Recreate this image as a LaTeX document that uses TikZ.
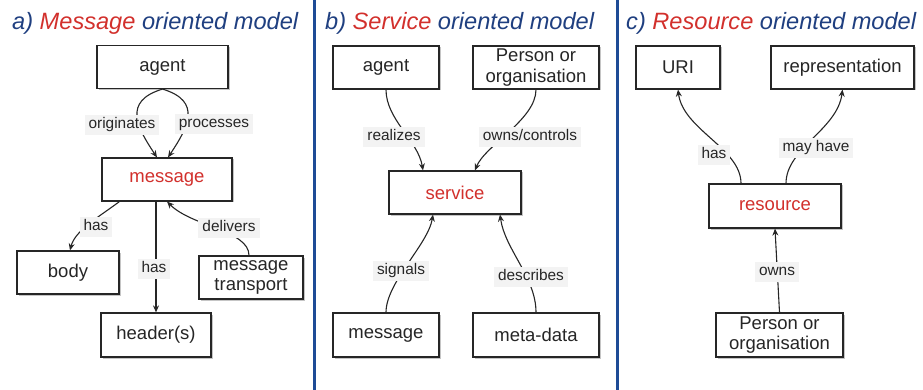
\documentclass[tikz,border=0pt]{standalone}
\usepackage{fontspec}
\setmainfont{Liberation Sans}
\usepackage{tikz}
\usetikzlibrary{arrows.meta,shadows}
\definecolor{titleblue}{HTML}{1F3F80}
\definecolor{accentred}{HTML}{D2302C}
\definecolor{ruleblue}{HTML}{1E4B96}
\definecolor{lblgray}{HTML}{F3F3F3}
\newcommand{\hl}[1]{\textcolor{accentred}{#1}}

\begin{document}
\begin{tikzpicture}[
  x=1pt, y=-1pt,
  title/.style={anchor=base west, inner sep=0pt, font=\fontsize{23.6}{26}\selectfont\itshape, text=titleblue},
  box/.style={draw=black!85, line width=1.2pt, fill=white, align=center, inner sep=1pt,
    minimum height=43pt, text=black!85, font=\fontsize{18.5}{20.5}\selectfont,
    drop shadow={shadow xshift=1.5pt, shadow yshift=-1.5pt, fill=black!45}},
  lbl/.style={fill=lblgray, inner xsep=4pt, inner ysep=2.5pt, text height=11pt, text depth=3.5pt,
    text=black!85, font=\fontsize{15.4}{17}\selectfont},
  conn/.style={-{Stealth[length=7pt,width=6pt]}, line width=1.1pt, draw=black!85},
  sep/.style={draw=ruleblue, line width=3pt}
]
\useasboundingbox (0,0) rectangle (923,390);

% separators
\draw[sep] (314.5,0) -- (314.5,390);
\draw[sep] (617.5,0) -- (617.5,390);

% a) message oriented model
\node[title] (ta) at (12,30) {a) \hl{Message} oriented model};
\node[box, minimum width=131pt] (ma) at (162.5,67) {agent};
\node[box, minimum width=130pt, text=accentred] (mm) at (167,179.5) {message};
\node[box, minimum width=102pt] (mb) at (68,272.5) {body};
\node[box, minimum width=104pt] (mt) at (251,277.5) {message\\transport};
\node[box, minimum width=110pt, minimum height=44pt] (mh) at (156,335) {header(s)};
\draw[conn] (ma.south) .. controls +(-40,12) and +(-20,-30) .. ([xshift=-10pt]mm.north)
  node[lbl] at (122,125) {originates};
\draw[conn] (ma.south) .. controls +(40,12) and +(20,-30) .. ([xshift=1pt]mm.north)
  node[lbl] at (214,124) {processes};
\draw[conn] ([xshift=18pt]mm.south west) .. controls +(-20,15) and +(5,-20) .. ([xshift=2pt]mb.north)
  node[lbl] at (96,227) {has};
\draw[conn] (mm.south -| mh.north) -- (mh.north)
  node[lbl] at (154,269) {has};
\draw[conn] ([xshift=-2pt]mt.north) .. controls +(0,-25) and +(25,25) .. (mm.south)
  node[lbl] at (229,228) {delivers};

% b) service oriented model
\node[title] (tb) at (325,30) {b) \hl{Service} oriented model};
\node[box, minimum width=106pt] (sa) at (386,67.5) {agent};
\node[box, minimum width=126pt] (sp) at (536,67.5) {Person or\\organisation};
\node[box, minimum width=132pt, text=accentred] (ss) at (455,192.5) {service};
\node[box, minimum width=106pt, minimum height=44pt] (sm) at (386,335) {message};
\node[box, minimum width=126pt, minimum height=44pt] (sd) at (536,335) {meta-data};
\draw[conn] (sa.south) .. controls +(0,30) and +(-5,-30) .. ([xshift=-32pt]ss.north)
  node[lbl] at (394,137) {realizes};
\draw[conn] (sp.south) .. controls +(0,30) and +(10,-25) .. ([xshift=20pt]ss.north)
  node[lbl] at (530,137) {owns/controls};
\draw[conn] (sm.north) .. controls +(0,-30) and +(-5,30) .. ([xshift=-22pt]ss.south)
  node[lbl] at (401,271) {signals};
\draw[conn] (sd.north) .. controls +(0,-35) and +(5,35) .. ([xshift=45pt]ss.south)
  node[lbl] at (531,277) {describes};

% c) resource oriented model
\node[title] (tc) at (626,30) {c) \hl{Resource} oriented model};
\node[box, minimum width=84pt] (ru) at (678,67.5) {URI};
\node[box, minimum width=143pt] (rp) at (842.5,67.5) {representation};
\node[box, minimum width=132pt, minimum height=44pt, text=accentred] (rr) at (775,206) {resource};
\node[box, minimum width=127pt, minimum height=44pt] (ro) at (779.5,335) {Person or\\organisation};
\draw[conn] ([xshift=-34pt]rr.north) .. controls +(0,-35) and +(5,40) .. (ru.south)
  node[lbl] at (714,155) {has};
\draw[conn] ([xshift=11pt]rr.north) .. controls +(0,-35) and +(-5,40) .. (rp.south)
  node[lbl] at (816,148) {may have};
\draw[conn] (ro.north) -- (rr.south)
  node[lbl] at (777,272) {owns};
\end{tikzpicture}
\end{document}
